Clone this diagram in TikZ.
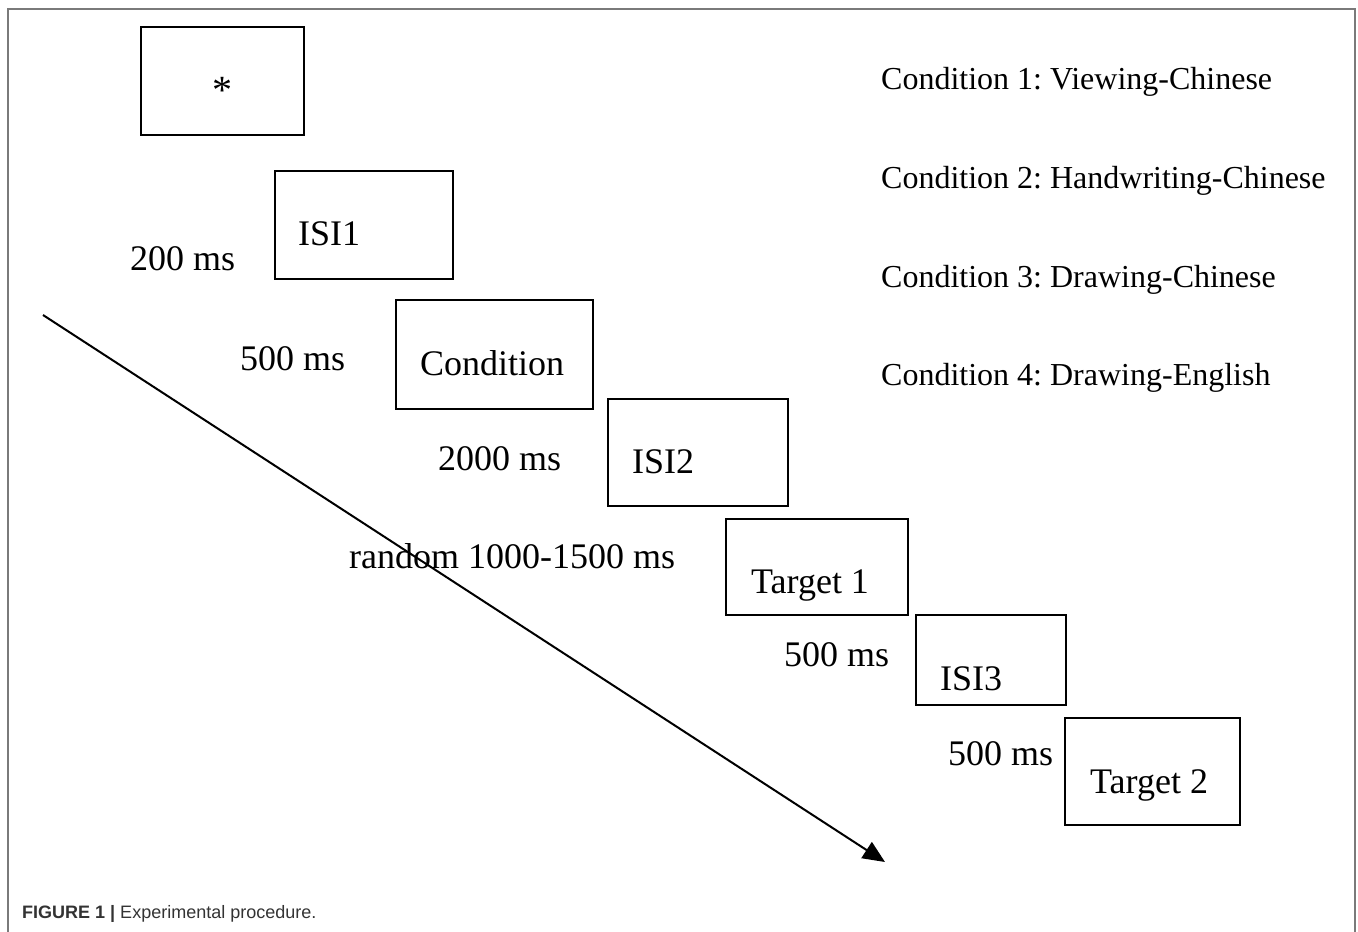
\documentclass[tikz,border=0pt]{standalone}
\usepackage{fontspec}
\setmainfont{Liberation Serif}
\newfontfamily\capfont{Liberation Sans}
\usetikzlibrary{arrows.meta}
\definecolor{framegray}{HTML}{7A7A7A}
\definecolor{captext}{HTML}{333333}
\frenchspacing
\tikzset{
  stimbox/.style={draw=black, line width=2.2pt, rectangle, inner sep=0pt},
  boxtext/.style={anchor=base west, inner sep=0pt, font=\fontsize{36}{42}\selectfont},
  timetext/.style={anchor=base west, inner sep=0pt, font=\fontsize{36}{42}\selectfont},
  condtext/.style={anchor=base west, inner sep=0pt, font=\fontsize{32}{38}\selectfont},
  timeline/.style={line width=2pt, -{Triangle[length=22pt,width=19pt]}}
}
\newcommand{\stim}[5]{\node[stimbox, minimum width={#3-#1}, minimum height={#4-#2}] (#5) at ({(#1+#3)/2},{(#2+#4)/2}) {};}
\begin{document}
\begin{tikzpicture}[x=1pt,y=-1pt]
\useasboundingbox (0,0) rectangle (1358,932);
\draw[framegray, line width=1.6pt] (8,945) -- (8,9) -- (1355,9) -- (1355,945);
% boxes
\stim{141}{27}{304}{135}{fix}
\stim{275}{171}{453}{279}{isi1}
\stim{396}{300}{593}{409}{cond}
\stim{608}{399}{788}{506}{isi2}
\stim{726}{519}{908}{615}{t1}
\stim{916}{615}{1066}{705}{isi3}
\stim{1065}{718}{1240}{825}{t2}
% box texts
\node[inner sep=0pt, font=\fontsize{40}{46}\selectfont] (star) at (222,90) {*};
\node[boxtext] (isi1t) at (298,245) {ISI1};
\node[boxtext] (condt) at (420,375) {Condition};
\node[boxtext] (isi2t) at (632,473) {ISI2};
\node[boxtext] (t1t) at (751,593) {Target 1};
\node[boxtext] (isi3t) at (940,690) {ISI3};
\node[boxtext] (t2t) at (1090,793) {Target 2};
% durations
\node[timetext] (d1) at (130,270) {200 ms};
\node[timetext] (d2) at (240,370) {500 ms};
\node[timetext] (d3) at (438,470) {2000 ms};
\node[timetext] (d4) at (349,568) {random 1000-1500 ms};
\node[timetext] (d5) at (784,666) {500 ms};
\node[timetext] (d6) at (948,765) {500 ms};
% conditions
\node[condtext] (c1) at (881,89) {Condition 1: Viewing-Chinese};
\node[condtext] (c2) at (881,188) {Condition 2: Handwriting-Chinese};
\node[condtext] (c3) at (881,287) {Condition 3: Drawing-Chinese};
\node[condtext] (c4) at (881,385) {Condition 4: Drawing-English};
% time arrow
\coordinate (ts) at (43,315);
\coordinate (te) at (885,862);
\draw[timeline] (ts) -- (te);
% caption
\node[anchor=base west, inner sep=0pt, text=captext, font=\capfont\fontsize{18}{21}\selectfont] (cap) at (22,918) {\textbf{FIGURE 1 |} Experimental procedure.};
\end{tikzpicture}
\end{document}
